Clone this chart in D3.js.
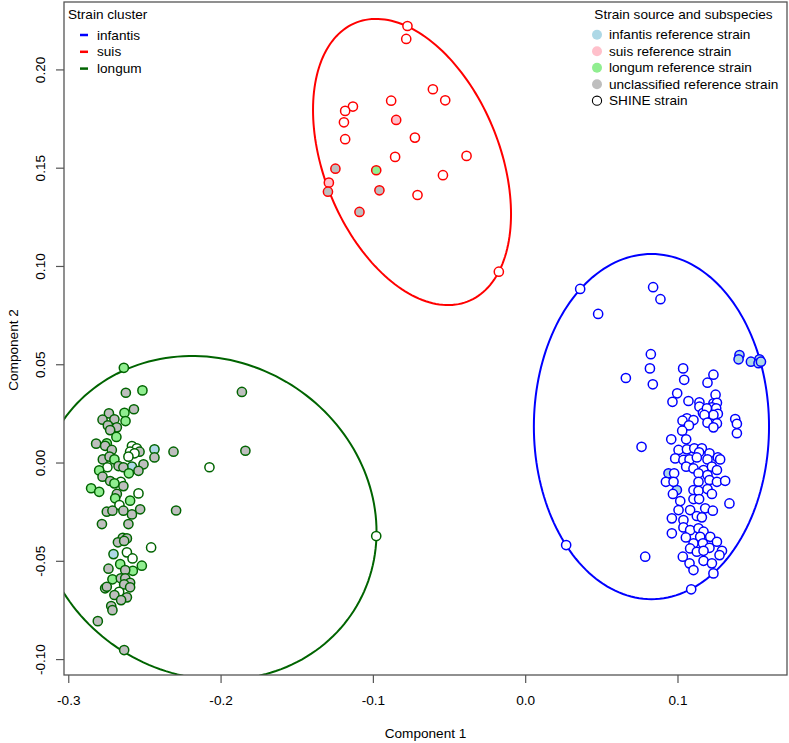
<!DOCTYPE html>
<html><head><meta charset="utf-8">
<script src="https://cdn.jsdelivr.net/npm/d3@7"></script>
<style>
body{margin:0;background:#fff;}
svg text{font-family:"Liberation Sans",Arial,sans-serif;fill:#000;}
</style></head>
<body><svg id="c" width="789" height="743"></svg>
<script>
// ---- data ----
// type codes: S = SHINE strain, I = infantis ref, P = suis ref, L = longum ref, U = unclassified ref
const xTicks = [-0.3, -0.2, -0.1, 0.0, 0.1];
const yTicks = [-0.10, -0.05, 0.00, 0.05, 0.10, 0.15, 0.20];
const clusterNames = ["infantis", "suis", "longum"];
const sourceLabels = ["infantis reference strain", "suis reference strain", "longum reference strain", "unclassified reference strain", "SHINE strain"];
const sourceTypes = ["I", "P", "L", "U", "S"];

const infantisPts = [
[0.0941,-0.0055,"I"],[0.0996,-0.0140,"I"],
[0.0361,0.0883,"S"],[0.0840,0.0892,"S"],[0.0888,0.0831,"S"],[0.0479,0.0756,"S"],[0.0825,0.0551,"S"],[0.0819,0.0479,"S"],
[0.0838,0.0398,"S"],[0.0661,0.0430,"S"],[0.1037,0.0479,"S"],[0.1044,0.0421,"S"],[0.1236,0.0447,"S"],[0.1197,0.0406,"S"],
[0.1407,0.0547,"I"],[0.1401,0.0525,"I"],[0.1482,0.0513,"I"],[0.1538,0.0525,"I"],[0.1532,0.0505,"I"],[0.1548,0.0513,"I"],
[0.0998,0.0352,"S"],[0.0967,0.0309,"S"],[0.1072,0.0313,"S"],[0.1144,0.0306,"S"],[0.1250,0.0345,"S"],[0.1236,0.0301,"S"],
[0.1259,0.0304,"S"],[0.1144,0.0284,"S"],[0.1167,0.0252,"S"],[0.1226,0.0281,"S"],[0.1254,0.0276,"S"],[0.1265,0.0248,"S"],
[0.1236,0.0242,"S"],[0.1193,0.0276,"S"],[0.1177,0.0242,"S"],[0.1062,0.0225,"S"],[0.1033,0.0213,"S"],[0.1105,0.0216,"S"],
[0.1197,0.0203,"S"],[0.1259,0.0199,"S"],[0.1236,0.0179,"S"],[0.1075,0.0189,"S"],[0.1031,0.0162,"S"],[0.1379,0.0221,"S"],
[0.1390,0.0197,"S"],[0.1390,0.0149,"S"],[0.0959,0.0118,"S"],[0.1057,0.0118,"S"],[0.0764,0.0080,"S"],[0.1007,0.0064,"S"],
[0.1062,0.0067,"S"],[0.1110,0.0072,"S"],[0.1160,0.0072,"S"],[0.1142,0.0052,"S"],[0.1210,0.0047,"S"],[0.1265,0.0026,"S"],
[0.1280,0.0016,"S"],[0.0985,0.0021,"S"],[0.1039,0.0013,"S"],[0.1079,0.0016,"S"],[0.1127,0.0026,"S"],[0.1197,0.0016,"S"],
[0.1057,-0.0021,"S"],[0.1105,-0.0030,"S"],[0.1171,-0.0038,"S"],[0.1226,-0.0021,"S"],[0.1259,-0.0038,"S"],[0.0978,-0.0055,"S"],
[0.1138,-0.0055,"S"],[0.1197,-0.0064,"S"],[0.0924,-0.0098,"S"],[0.0974,-0.0098,"S"],[0.1138,-0.0098,"S"],[0.1210,-0.0089,"S"],
[0.1259,-0.0098,"S"],[0.1313,-0.0093,"S"],[0.0970,-0.0160,"S"],[0.1105,-0.0140,"S"],[0.1138,-0.0144,"S"],[0.1197,-0.0135,"S"],
[0.1226,-0.0160,"S"],[0.1018,-0.0196,"S"],[0.1105,-0.0186,"S"],[0.1142,-0.0186,"S"],[0.1341,-0.0208,"S"],[0.1007,-0.0242,"S"],
[0.1083,-0.0242,"S"],[0.1182,-0.0233,"S"],[0.1232,-0.0245,"S"],[0.0963,-0.0284,"S"],[0.1127,-0.0272,"S"],[0.1160,-0.0279,"S"],
[0.1039,-0.0293,"S"],[0.1039,-0.0330,"S"],[0.1083,-0.0344,"S"],[0.1138,-0.0335,"S"],[0.0963,-0.0360,"S"],[0.1055,-0.0381,"S"],
[0.1171,-0.0352,"S"],[0.1149,-0.0378,"S"],[0.1215,-0.0378,"S"],[0.1105,-0.0411,"S"],[0.1167,-0.0411,"S"],[0.1259,-0.0403,"S"],
[0.1210,-0.0434,"S"],[0.1083,-0.0437,"S"],[0.1127,-0.0454,"S"],[0.1171,-0.0449,"S"],[0.1292,-0.0449,"S"],[0.1276,-0.0471,"S"],
[0.1035,-0.0479,"S"],[0.1079,-0.0513,"S"],[0.1105,-0.0547,"S"],[0.1171,-0.0500,"S"],[0.1226,-0.0513,"S"],[0.0788,-0.0479,"S"],
[0.0269,-0.0420,"S"],[0.1236,-0.0564,"S"],[0.1090,-0.0645,"S"]
];

const suisPts = [
[-0.0773,0.2221,"S"],[-0.0781,0.2155,"S"],[-0.0606,0.1899,"S"],[-0.0525,0.1843,"S"],[-0.0880,0.1841,"S"],[-0.1131,0.1811,"S"],
[-0.1182,0.1789,"S"],[-0.1190,0.1731,"S"],[-0.0847,0.1743,"P"],[-0.1182,0.1645,"S"],[-0.0724,0.1653,"S"],[-0.0854,0.1555,"S"],
[-0.0385,0.1560,"S"],[-0.1246,0.1495,"U"],[-0.0978,0.1487,"L"],[-0.1289,0.1424,"P"],[-0.1295,0.1378,"U"],[-0.0957,0.1385,"U"],
[-0.0540,0.1462,"S"],[-0.0707,0.1361,"S"],[-0.1088,0.1275,"U"],[-0.0173,0.0971,"S"]
];

const longumPts = [
[-0.2635,0.0482,"L"],[-0.2622,0.0355,"U"],[-0.2513,0.0367,"L"],[-0.1860,0.0359,"U"],[-0.2569,0.0271,"U"],[-0.2631,0.0253,"L"],
[-0.2733,0.0250,"U"],[-0.2775,0.0218,"U"],[-0.2697,0.0220,"U"],[-0.2624,0.0211,"L"],[-0.2740,0.0189,"U"],[-0.2681,0.0179,"U"],
[-0.2725,0.0165,"U"],[-0.2684,0.0130,"L"],[-0.2817,0.0096,"U"],[-0.2747,0.0098,"L"],[-0.2758,0.0085,"U"],[-0.2714,0.0064,"U"],
[-0.2582,0.0084,"S"],[-0.2550,0.0072,"S"],[-0.2532,0.0055,"U"],[-0.2594,0.0055,"S"],[-0.2565,0.0047,"S"],[-0.2434,0.0067,"I"],
[-0.2434,0.0026,"U"],[-0.2309,0.0055,"U"],[-0.1837,0.0060,"U"],[-0.2773,0.0016,"U"],[-0.2729,0.0030,"U"],[-0.2697,0.0016,"L"],
[-0.2605,0.0030,"S"],[-0.2506,-0.0009,"U"],[-0.2743,-0.0024,"S"],[-0.2797,-0.0040,"L"],[-0.2670,-0.0018,"U"],[-0.2582,-0.0021,"I"],
[-0.2638,-0.0024,"U"],[-0.2073,-0.0024,"S"],[-0.2539,-0.0042,"U"],[-0.2602,-0.0055,"L"],[-0.2775,-0.0072,"U"],[-0.2725,-0.0094,"U"],
[-0.2655,-0.0098,"S"],[-0.2638,-0.0120,"U"],[-0.2697,-0.0106,"L"],[-0.2850,-0.0131,"L"],[-0.2797,-0.0149,"L"],[-0.2539,-0.0157,"S"],
[-0.2681,-0.0160,"U"],[-0.2692,-0.0182,"L"],[-0.2594,-0.0194,"L"],[-0.2292,-0.0244,"U"],[-0.2664,-0.0216,"S"],[-0.2528,-0.0238,"U"],
[-0.2747,-0.0250,"U"],[-0.2710,-0.0245,"U"],[-0.2638,-0.0245,"U"],[-0.2582,-0.0264,"U"],[-0.2779,-0.0313,"U"],[-0.2605,-0.0313,"U"],
[-0.2642,-0.0383,"U"],[-0.2615,-0.0386,"U"],[-0.2674,-0.0406,"U"],[-0.2633,-0.0399,"U"],[-0.2456,-0.0432,"S"],[-0.2703,-0.0466,"I"],
[-0.2615,-0.0457,"S"],[-0.2578,-0.0488,"S"],[-0.2659,-0.0517,"L"],[-0.2517,-0.0525,"L"],[-0.2576,-0.0551,"L"],[-0.2736,-0.0540,"U"],
[-0.2626,-0.0547,"U"],[-0.2710,-0.0594,"L"],[-0.2655,-0.0589,"U"],[-0.2626,-0.0589,"U"],[-0.2594,-0.0612,"U"],[-0.2633,-0.0620,"U"],
[-0.2594,-0.0635,"U"],[-0.2758,-0.0640,"U"],[-0.2747,-0.0632,"U"],[-0.2666,-0.0658,"S"],[-0.2697,-0.0674,"U"],[-0.2615,-0.0686,"U"],
[-0.2653,-0.0700,"U"],[-0.2718,-0.0730,"U"],[-0.2710,-0.0751,"U"],[-0.2806,-0.0807,"U"],[-0.2633,-0.0954,"U"],[-0.0978,-0.0374,"S"]
];

// cluster ellipses: centre, x half-extent, y half-extent, correlation
const ellCX = [0.0829, -0.0743, -0.2090];
const ellCY = [0.0183, 0.1529, -0.0282];
const ellSX = [0.0772, 0.0650, 0.1114];
const ellSY = [0.0878, 0.0728, 0.0824];
const ellR  = [0.0, -0.364, -0.086];

// ---- styles ----
const clusterColor = {infantis:"#0000FF", suis:"#FF0000", longum:"#006400"};
const fillOf = {S:"#FFFFFF", I:"#ADD8E6", P:"#FFC0CB", L:"#90EE90", U:"#BEBEBE"};
const FS = "13.6px";

const svg = d3.select("#c");
const L = 64, R = 787, T = 2, B = 675;
const x = d3.scaleLinear().domain([-0.3028, 0.1719]).range([L, R]);
const y = d3.scaleLinear().domain([-0.1081, 0.2343]).range([B, T]);

svg.append("clipPath").attr("id","clip").append("rect")
  .attr("x",L).attr("y",T).attr("width",R-L).attr("height",B-T);
const plot = svg.append("g").attr("clip-path","url(#clip)");

// ellipses
const line = d3.line().x(d=>x(d[0])).y(d=>y(d[1]));
clusterNames.forEach((name,i)=>{
  const pts = d3.range(0, 361, 2).map(a=>{
    const t = a*Math.PI/180;
    const r = ellR[i];
    return [ellCX[i] + ellSX[i]*Math.cos(t),
            ellCY[i] + ellSY[i]*(r*Math.cos(t) + Math.sqrt(1-r*r)*Math.sin(t))];
  });
  plot.append("path").datum(pts).attr("d", line).attr("fill","none")
    .attr("stroke", clusterColor[name]).attr("stroke-width",2);
});

// points
const groups = [["infantis", infantisPts], ["suis", suisPts], ["longum", longumPts]];
groups.forEach(([name, pts])=>{
  plot.append("g").selectAll("circle").data(pts).join("circle")
    .attr("cx", d=>x(d[0])).attr("cy", d=>y(d[1])).attr("r", 4.6)
    .attr("fill", d=>fillOf[d[2]]).attr("stroke", clusterColor[name]).attr("stroke-width",1.5);
});

// axes
const ax = svg.append("g").attr("transform",`translate(0,${B})`)
  .call(d3.axisBottom(x).tickValues(xTicks).tickSize(8).tickFormat(d3.format(".1f")));
ax.select(".domain").remove();
ax.selectAll("line").attr("stroke","#555").attr("stroke-width",1.2);
ax.selectAll("text").attr("y",30).attr("dy",0).style("font-size",FS)
  .text(d=>d3.format(".1f")(d).replace("−","-"));

const ay = svg.append("g").attr("transform",`translate(${L},0)`)
  .call(d3.axisLeft(y).tickValues(yTicks).tickSize(8).tickFormat(d3.format(".2f")));
ay.select(".domain").remove();
ay.selectAll("line").attr("stroke","#555").attr("stroke-width",1.2);
ay.selectAll("text").attr("transform","rotate(-90)").attr("x",0).attr("y",-19.5).attr("dy",0)
  .attr("text-anchor","middle").style("font-size",FS)
  .text(d=>d3.format(".2f")(d).replace("−","-"));

svg.append("rect").attr("x",L).attr("y",T).attr("width",R-L).attr("height",B-T)
  .attr("fill","none").attr("stroke","#555").attr("stroke-width",1.3);

svg.append("text").attr("x",(L+R)/2).attr("y",738).attr("text-anchor","middle")
  .style("font-size",FS).text("Component 1");
svg.append("text").attr("transform","translate(18,350) rotate(-90)").attr("text-anchor","middle")
  .style("font-size",FS).text("Component 2");

// legend: clusters
const lg1 = svg.append("g");
lg1.append("text").attr("x",68).attr("y",19).style("font-size",FS).text("Strain cluster");
clusterNames.forEach((n,i)=>{
  const cy = 35 + i*16.8;
  lg1.append("line").attr("x1",80).attr("x2",88).attr("y1",cy).attr("y2",cy)
    .attr("stroke",clusterColor[n]).attr("stroke-width",2.5);
  lg1.append("text").attr("x",97).attr("y",cy+4.5).style("font-size",FS).text(n);
});

// legend: sources
const lg2 = svg.append("g");
lg2.append("text").attr("x",683.5).attr("y",19).attr("text-anchor","middle").style("font-size",FS)
  .text("Strain source and subspecies");
sourceLabels.forEach((s,i)=>{
  const cy = 34.7 + i*16.5;
  const t = sourceTypes[i];
  lg2.append("circle").attr("cx",597).attr("cy",cy).attr("r", t==="S"?4.6:5)
    .attr("fill", t==="S" ? "none" : fillOf[t])
    .attr("stroke", t==="S" ? "#000" : "none").attr("stroke-width",1.1);
  lg2.append("text").attr("x",609).attr("y",cy+4.5).style("font-size",FS).text(s);
});
</script>
</body></html>
